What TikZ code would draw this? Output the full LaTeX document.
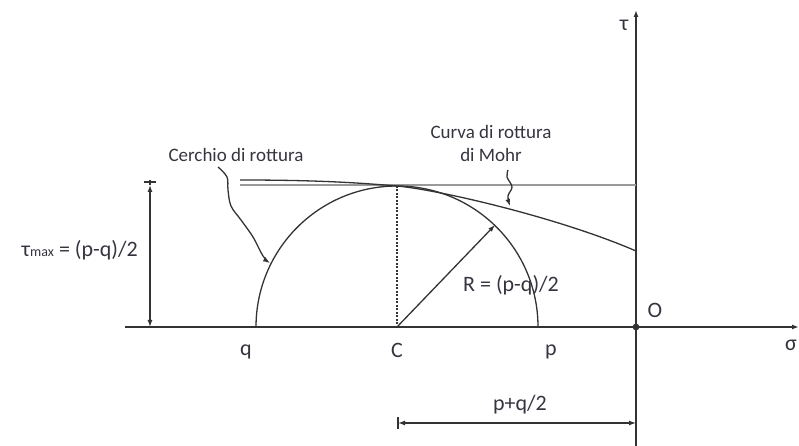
\documentclass[tikz,border=0pt]{standalone}
\usepackage{fontspec}
\setmainfont{Carlito}
\usetikzlibrary{arrows.meta}
\definecolor{lc}{HTML}{333333}
\definecolor{gl}{HTML}{9A9A9A}
\definecolor{tc}{HTML}{353540}
\begin{document}
\begin{tikzpicture}[x=1pt,y=1pt,
  line/.style={draw=lc, line width=1.3pt},
  axis/.style={draw=lc, line width=2.2pt},
  tipend/.style={-{Latex[length=7pt,width=5pt]}},
  tipboth/.style={{Latex[length=7pt,width=5pt]}-{Latex[length=7pt,width=5pt]}},
  lbl/.style={text=tc, inner sep=0pt, font=\fontsize{22}{24}\selectfont},
  slbl/.style={text=tc, inner sep=0pt, font=\fontsize{19}{23}\selectfont, align=center},
]
\useasboundingbox (0,0) rectangle (799,446);
% key points
\coordinate (C) at (397,119);
\coordinate (T) at (397,260);
\coordinate (Q) at (256,119);
\coordinate (P) at (538,119);
\coordinate (O) at (636,119);
\coordinate (xs) at (125,119);
\coordinate (xe) at (799,119);
\coordinate (ys) at (636,0);
\coordinate (ye) at (636,436);
\coordinate (gs) at (240,261);
\coordinate (ge) at (636,261);
\coordinate (ms) at (240,266);
\coordinate (me) at (636,195);
\coordinate (rp) at (495,221);
\coordinate (ds) at (150,119);
\coordinate (de) at (150,261);
\coordinate (bs) at (398,23);
\coordinate (be) at (636,23);
% axes
\draw[axis, tipend] (xs) -- (xe);
\draw[axis, tipend] (ys) -- (ye);
\fill[lc] (O) circle (3.4);
% gray horizontal line
\draw[draw=gl, line width=1.3pt] (gs) -- (ge);
% Mohr curve
\draw[line] (ms) .. controls (320,266) and (360,263) .. (T)
  .. controls (440,256) and (560,228) .. (me);
% circle
\draw[line] (Q) arc[start angle=180, end angle=0, radius=141];
% dashed vertical
\draw[line, dashed, dash pattern=on 2pt off 1.5pt] (T) -- (C);
% radius arrow
\draw[line, tipend] (C) -- (rp);
% left dimension
\draw[line, tipboth] (ds) -- (de);
\draw[line] (144,264) -- (156,264);
\draw[line] (150,261) -- (150,266);
% bottom dimension
\draw[line, tipboth] (bs) -- (be);
\draw[line] (bs) ++(0,-6) -- ++(0,12);
% wavy pointer arrows
\draw[line, tipend] plot[smooth, tension=0.6] coordinates {(218,279) (227,269) (228,256) (231,240) (241,226) (253,209) (263,190) (270,183)};
\draw[line, tipend] plot[smooth, tension=0.6] coordinates {(508,276) (507,269) (512,259) (508,250) (510,240)};
% labels
\node[lbl] (tau) at (624,421) {τ};
\node[lbl] (olab) at (655,136) {O};
\node[lbl] (sig) at (791,101) {σ};
\node[lbl] (qlab) at (246,94) {q};
\node[lbl] (clab) at (397,96) {C};
\node[lbl] (plab) at (551,94) {p};
\node[lbl] (rlab) at (511,161) {R = (p-q)/2};
\node[lbl] (dlab) at (520,41) {p+q/2};
\node[lbl, anchor=east] (tmax) at (138,196) {τ{\fontsize{14}{16}\selectfont max} = (p-q)/2};
\node[slbl] (cerchio) at (236,291) {Cerchio di rottura};
\node[slbl] (curva) at (491,303) {Curva di rottura\\di Mohr};
\end{tikzpicture}
\end{document}
